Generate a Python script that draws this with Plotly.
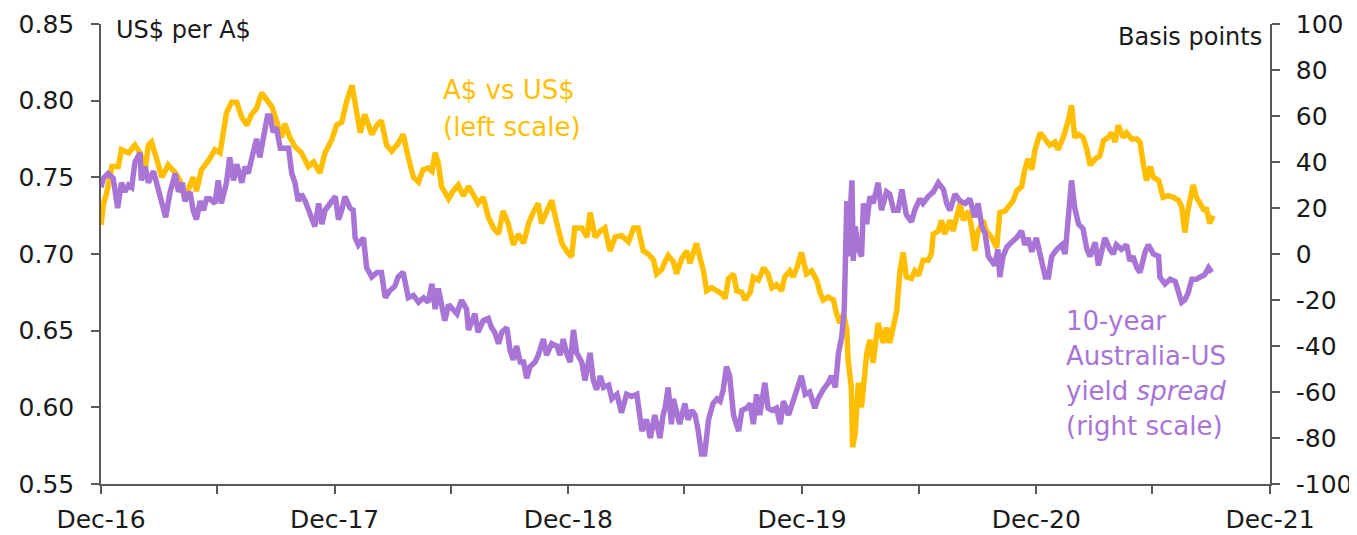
import pandas as pd
import plotly.graph_objects as go

# days after end-Dec 2016
aud_days = [0, 4, 9, 17, 27, 32, 43, 53, 61, 69, 74, 79, 87, 95, 105, 116, 123, 131, 139, 144,
            149, 157, 168, 178, 186, 191, 196, 204, 212, 220, 228, 235, 243, 251, 259, 267, 274, 282, 287,
            295, 303, 313, 324, 332, 342, 350, 360, 368, 376, 384, 392, 399, 405, 412, 423, 431, 438, 446, 454,
            464, 472, 480, 488, 496, 503, 511, 517, 522, 527, 532, 543, 550, 558, 566, 574, 584,
            589, 597, 605, 613, 621, 628, 636, 644, 652, 660, 668, 675, 683, 688, 696, 704, 712, 720, 727, 735,
            740, 751, 759, 764, 772, 780, 787, 795, 803, 813, 824, 832, 839, 847, 855, 863, 868, 876, 881,
            886, 894, 899, 907, 915, 920, 925, 930, 936, 941, 946, 954, 962, 970, 975, 980, 988, 993, 1001, 1006,
            1014, 1019, 1027, 1035, 1042, 1048, 1055, 1063, 1068, 1076, 1081, 1087, 1094, 1102, 1110, 1118, 1123,
            1128, 1136, 1144, 1149, 1154, 1160, 1165, 1167, 1172, 1174, 1178,
            1183, 1188, 1196, 1201, 1206, 1214, 1222, 1227, 1232, 1238, 1243, 1248, 1253, 1258, 1266, 1271, 1277,
            1284, 1292, 1297, 1300, 1308, 1313, 1318, 1326, 1331, 1337, 1342, 1347, 1355, 1360, 1365, 1370, 1378,
            1383, 1391, 1399, 1404, 1412, 1417, 1425, 1430, 1438, 1443, 1448, 1454, 1459, 1467, 1475,
            1482, 1490, 1495, 1503, 1511, 1516, 1521, 1527, 1534, 1540, 1545, 1553, 1560, 1566, 1573, 1579, 1584,
            1589, 1597, 1602, 1610, 1618, 1623, 1628, 1633, 1639, 1644, 1652, 1659, 1667, 1675, 1683, 1688, 1693,
            1698, 1706, 1711, 1717, 1722, 1727, 1732, 1737]

aud_usd = [0.719, 0.733, 0.740, 0.757, 0.757, 0.768, 0.766, 0.771, 0.766, 0.755, 0.771, 0.773, 0.762, 0.750,
           0.758, 0.753, 0.748, 0.736, 0.745, 0.750, 0.741, 0.755, 0.761, 0.768, 0.766, 0.779, 0.792, 0.799,
           0.799, 0.789, 0.784, 0.791, 0.795, 0.805, 0.801, 0.796, 0.787, 0.776, 0.785,
           0.776, 0.770, 0.766, 0.757, 0.760, 0.753, 0.766, 0.774, 0.784, 0.786, 0.800, 0.810, 0.792, 0.779,
           0.791, 0.778, 0.784, 0.787, 0.771, 0.767, 0.772, 0.778, 0.763, 0.750, 0.747, 0.755, 0.756, 0.754,
           0.766, 0.759, 0.744, 0.736, 0.741, 0.745, 0.738, 0.744, 0.737,
           0.733, 0.737, 0.724, 0.717, 0.713, 0.728, 0.720, 0.706, 0.713, 0.707, 0.720, 0.727, 0.733, 0.720,
           0.728, 0.735, 0.720, 0.707, 0.702, 0.698, 0.717, 0.717, 0.711, 0.727, 0.711, 0.715, 0.717, 0.702,
           0.711, 0.712, 0.708, 0.717, 0.717, 0.702, 0.700, 0.696, 0.687, 0.690, 0.695,
           0.699, 0.695, 0.687, 0.697, 0.702, 0.694, 0.702, 0.707, 0.697, 0.689, 0.676, 0.678, 0.676, 0.674,
           0.671, 0.684, 0.687, 0.676, 0.675, 0.670, 0.675, 0.685, 0.683, 0.691, 0.687, 0.678, 0.680, 0.676,
           0.685, 0.689, 0.685, 0.691, 0.701, 0.687, 0.689, 0.683, 0.675, 0.670, 0.672, 0.670, 0.661, 0.655,
           0.661, 0.650, 0.631, 0.613, 0.574, 0.583,
           0.616, 0.600, 0.635, 0.644, 0.629, 0.655, 0.642, 0.652, 0.642, 0.655, 0.663, 0.689, 0.701, 0.685,
           0.684, 0.689, 0.686, 0.696, 0.696, 0.700, 0.713, 0.715, 0.722, 0.713, 0.722, 0.715, 0.724, 0.733,
           0.722, 0.728, 0.717, 0.702, 0.715, 0.722, 0.715, 0.711, 0.704, 0.727, 0.728, 0.731, 0.735, 0.741,
           0.744, 0.755, 0.762, 0.755, 0.768, 0.779, 0.774,
           0.771, 0.773, 0.768, 0.776, 0.787, 0.797, 0.776, 0.778, 0.776, 0.768, 0.758, 0.762, 0.764, 0.774,
           0.776, 0.779, 0.773, 0.784, 0.776, 0.779, 0.775, 0.775, 0.773, 0.759, 0.748, 0.757, 0.750, 0.748,
           0.737, 0.738, 0.737, 0.735, 0.731, 0.714, 0.729, 0.745, 0.737, 0.733, 0.729, 0.729, 0.720, 0.725]

spread_days = [0, 4, 11, 19, 26, 32, 37, 43, 48, 53, 61, 63, 69, 74, 82, 87, 95, 101, 108, 116,
               121, 127, 131, 139, 144, 149, 155, 160, 165, 170, 178, 183, 188, 196, 201, 207, 212, 220, 225, 230,
               235, 243, 248, 253, 260, 264, 269, 274, 280, 287,
               293, 298, 303, 308, 313, 319, 326, 334, 340, 345, 350, 358, 366, 371, 376, 381, 389, 394, 397, 402,
               410, 415, 423, 431, 438, 444, 451, 459, 464, 472, 480, 488, 496, 504, 511, 517, 522, 527, 532, 537,
               543, 550, 556, 563, 571, 574, 579, 584,
               589, 597, 605, 610, 615, 621, 626, 634, 639, 644, 649, 655, 660, 665, 670, 678, 683, 691, 696, 704,
               712, 717, 722, 727, 733, 738, 743, 751, 756, 764, 769, 774, 780, 785, 793, 798, 806, 813, 821, 829,
               837, 845, 852, 858, 865, 873, 878, 881,
               886, 891, 894, 899, 904, 912, 917, 923, 928, 933, 938, 943, 949, 956, 962, 967, 972, 977, 982, 988,
               996, 1001, 1009, 1014, 1019, 1024, 1029, 1037, 1042, 1048, 1055, 1061, 1066, 1074, 1081, 1089, 1094,
               1100, 1107, 1115, 1120, 1128, 1136, 1141, 1147, 1152, 1157, 1161, 1165, 1167, 1173, 1175, 1178,
               1183, 1188, 1191, 1196, 1201, 1206, 1214, 1219, 1227, 1232, 1238, 1245, 1251, 1258, 1266, 1271, 1279,
               1284, 1292, 1300, 1308, 1316, 1321, 1326, 1334, 1342, 1350, 1357, 1365, 1370, 1376, 1381, 1386, 1391,
               1396, 1401, 1404, 1409, 1415, 1422, 1430, 1438, 1443, 1448, 1454, 1461, 1467, 1475,
               1480, 1485, 1493, 1501, 1506, 1511, 1516, 1521, 1527, 1534, 1540, 1545, 1553, 1558, 1563, 1568, 1576,
               1581, 1586, 1594, 1602, 1607, 1612, 1618, 1623, 1631, 1636, 1644, 1652, 1654, 1662, 1670, 1678, 1683,
               1688, 1693, 1698, 1704, 1711, 1717, 1724, 1730, 1735]

yield_spread = [29, 33, 35, 33, 20, 31, 27, 30, 29, 40, 44, 32, 38, 31, 36, 31, 23, 16, 27, 35,
                27, 31, 23, 27, 19, 15, 23, 19, 24, 24, 22, 32, 22, 31, 42, 32, 39, 31, 38, 35,
                41, 50, 42, 50, 60, 60, 53, 55, 46, 46,
                46, 35, 31, 23, 26, 23, 17, 12, 22, 13, 19, 22, 25, 15, 19, 25, 20, 19, 7, 4,
                7, -6, -10, -8, -8, -19, -16, -14, -10, -8, -19, -18, -21, -19, -21, -13, -24, -15, -23, -29,
                -22, -24, -26, -20, -24, -33, -30, -26,
                -34, -29, -28, -32, -34, -39, -34, -32, -42, -46, -40, -47, -47, -54, -49, -47, -44, -37, -44, -39,
                -40, -44, -37, -43, -47, -33, -43, -47, -55, -43, -55, -59, -53, -58, -57, -63, -61, -69, -61, -62,
                -61, -77, -72, -80, -70, -80, -70, -67,
                -58, -74, -63, -70, -74, -65, -72, -68, -70, -77, -87, -87, -72, -65, -63, -64, -59, -49, -53, -70,
                -77, -68, -67, -65, -74, -61, -70, -56, -67, -68, -67, -74, -64, -70, -64, -59, -53, -61, -60, -67,
                -63, -59, -56, -53, -58, -43, -36, -24, 23, -1, 32, -3, 12,
                2, -1, 22, 13, 25, 22, 31, 19, 27, 26, 19, 19, 28, 17, 14, 19, 24, 22, 25, 27,
                31, 28, 22, 19, 26, 23, 22, 24, 16, 22, 12, 9, -1, -3, -5, 2, -10, -1, 3, 5,
                7, 10, 4, 7, 1, 7, 0, -10,
                -10, -1, 2, 4, 0, 18, 32, 20, 13, 11, 2, -1, 5, -5, 2, 7, 2, 0, 4, 2,
                4, -3, -1, -6, -8, 1, 4, 0, -1, -10, -13, -11, -12, -16, -21, -20, -17, -11, -11, -10,
                -9, -6, -8]

tick_dates = ["2016-12-31", "2017-06-30", "2017-12-31", "2018-06-30", "2018-12-31", "2019-06-30",
              "2019-12-31", "2020-06-30", "2020-12-31", "2021-06-30", "2021-12-31"]
tick_labels = ["Dec-16", "", "Dec-17", "", "Dec-18", "", "Dec-19", "", "Dec-20", "", "Dec-21"]

left_ticks = [0.55, 0.60, 0.65, 0.70, 0.75, 0.80, 0.85]
right_ticks = [-100, -80, -60, -40, -20, 0, 20, 40, 60, 80, 100]

base = pd.Timestamp("2016-12-31")
aud_x = base + pd.to_timedelta(aud_days, unit="D")
spread_x = base + pd.to_timedelta(spread_days, unit="D")

GOLD = "#ffbf00"
PURPLE = "#a875d6"
AXIS = "#595959"
TEXT = "#1a1a1a"
FONT = "DejaVu Sans"

fig = go.Figure()

fig.add_trace(go.Scatter(x=spread_x, y=yield_spread, yaxis="y2", mode="lines",
                         line=dict(color=PURPLE, width=5.5), name="spread"))
fig.add_trace(go.Scatter(x=aud_x, y=aud_usd, mode="lines",
                         line=dict(color=GOLD, width=5.5), name="A$ vs US$"))

axis_style = dict(
    ticks="outside", ticklen=8, tickcolor=AXIS, tickwidth=1.5,
    showline=True, linecolor=AXIS, linewidth=1.5,
    showgrid=False, zeroline=False, automargin=False,
    tickfont=dict(size=25, color=TEXT),
)

# the page body adds an 8px offset, so the figure is 8px smaller each way
fig.update_layout(
    width=1349, height=527,
    margin=dict(l=93, r=87, t=16, b=51),
    paper_bgcolor="white", plot_bgcolor="white",
    showlegend=False,
    font=dict(family=FONT, size=25, color=TEXT),
    xaxis=dict(type="date", range=["2016-12-31", "2021-12-31"],
               tickvals=tick_dates, ticktext=tick_labels,
               ticklabelstandoff=4, **axis_style),
    yaxis=dict(range=[0.55, 0.85], tickvals=left_ticks,
               ticktext=[f"{v:.2f}" for v in left_ticks],
               ticklabelstandoff=12, **axis_style),
    yaxis2=dict(range=[-100, 100], overlaying="y", side="right",
                tickvals=right_ticks, ticktext=[str(v) for v in right_ticks],
                ticklabelstandoff=11, **axis_style),
)


def label(text, x, ypx, color, size, anchor="left"):
    fig.add_annotation(text=text, xref="paper", yref="paper",
                       x=(x - 101) / 1169, y=(484 - ypx) / 460,
                       xanchor=anchor, yanchor="middle", showarrow=False,
                       font=dict(size=size, color=color))


label("US$ per A$", 114, 30, TEXT, 24)
label("Basis points", 1264, 37, TEXT, 24, anchor="right")
label("A$ vs US$", 441, 90, GOLD, 26)
label("(left scale)", 441, 127, GOLD, 26)
label("10-year", 1064, 321, PURPLE, 26)
label("Australia-US", 1064, 356, PURPLE, 26)
label("yield <i>spread</i>", 1064, 391, PURPLE, 26)
label("(right scale)", 1064, 426, PURPLE, 26)

fig.write_html("out.html")
